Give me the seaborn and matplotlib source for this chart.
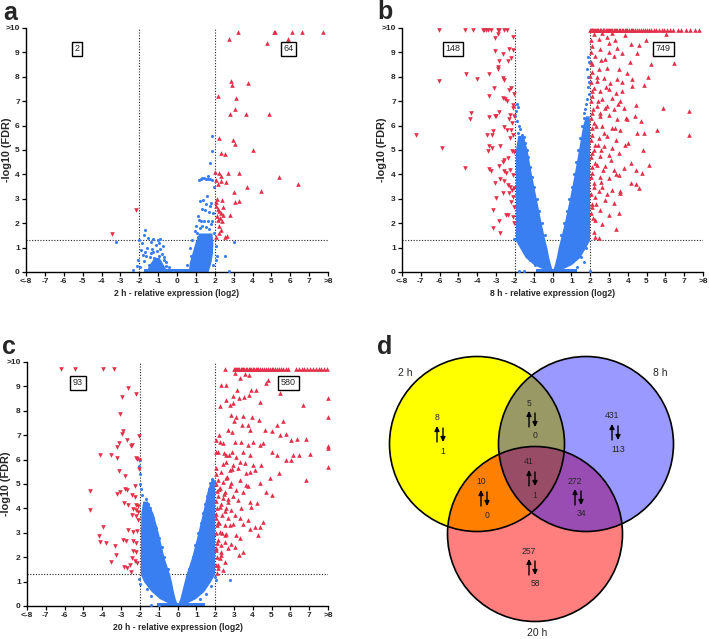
import numpy as np
import matplotlib
matplotlib.use("Agg")
import matplotlib.pyplot as plt
import seaborn as sns
from matplotlib.patches import Circle

sns.set_style("ticks")
plt.rcParams["font.family"] = ["Liberation Sans", "DejaVu Sans"]

RED = "#e2304a"
BLUE = "#3a7ff2"

x_ticks = list(range(-8, 9))
x_tick_labels = ["<-8", "-7", "-6", "-5", "-4", "-3", "-2", "-1", "0",
                 "1", "2", "3", "4", "5", "6", "7", ">8"]
y_ticks = list(range(0, 11))
y_tick_labels = ["0", "1", "2", "3", "4", "5", "6", "7", "8", "9", ">10"]

# ---- panel a (2 h) ----
a_counts = (2, 64)
a_top_y = 9.84
a_top_up_x = [3.22, 5.12, 5.19, 6.09, 6.62, 7.72]
a_up = [(2.74, 9.54), (5.89, 9.54), (4.76, 9.40), (2.87, 7.83), (2.92, 7.67), (3.75, 7.74),
        (2.16, 7.22), (3.10, 7.14), (3.06, 6.67), (2.83, 6.48), (3.68, 6.48), (4.90, 6.48),
        (2.23, 5.50), (2.96, 5.39), (3.08, 5.24), (2.32, 4.88), (2.53, 4.84), (4.02, 4.98),
        (2.02, 4.10), (2.21, 4.07), (2.71, 4.07), (3.26, 4.07), (2.32, 3.92), (5.40, 3.89),
        (2.07, 3.78), (2.34, 3.74), (2.57, 3.70), (2.16, 3.60), (6.41, 3.59), (3.70, 3.47),
        (4.44, 3.33), (3.01, 3.27), (2.10, 3.00), (2.39, 2.96), (2.04, 2.86), (3.08, 2.88),
        (3.26, 2.91), (2.07, 2.69), (2.16, 2.58), (2.25, 2.48), (2.34, 2.41), (2.42, 2.35),
        (2.10, 2.28), (2.30, 2.21), (2.16, 2.14), (2.39, 2.07), (2.83, 2.35), (2.25, 1.87),
        (2.32, 1.73), (2.21, 1.60), (2.04, 1.43), (2.53, 1.43), (2.67, 1.46), (2.46, 2.66)]
a_down = [(-3.47, 1.56), (-2.16, 2.55)]
a_blue = [(-3.24, 1.23), (-2.35, 0.07), (-2.14, 0.26), (-2.0, 1.32), (-1.86, 1.19), (-1.68, 1.71),
          (-1.77, 1.53), (-1.56, 1.39), (-1.26, 1.35), (-0.9, 1.36), (-1.38, 1.21), (-1.11, 1.12),
          (-0.76, 1.05), (-1.82, 0.71), (-1.65, 0.64), (-1.38, 0.78), (-1.2, 0.57), (-0.97, 0.64),
          (-0.67, 0.5), (-1.11, 0.37), (-0.85, 0.3), (-0.58, 0.26), (-1.47, 0.3), (-0.23, 0.1),
          (-1.0, 1.3), (-0.95, 1.2), (-1.9, 0.9), (-1.75, 0.45), (-1.05, 0.85), (-0.9, 0.95),
          (-0.8, 0.75), (-1.3, 0.95), (-1.6, 1.0), (-1.45, 0.6), (-1.25, 0.8), (-0.7, 0.6),
          (-1.7, 0.8), (-2.05, 0.5), (-1.95, 0.2), (-0.45, 0.2), (-0.6, 0.4),
          (1.15, 3.78), (1.25, 3.82), (1.35, 3.85), (1.45, 3.85), (1.55, 3.83), (1.65, 3.8),
          (1.75, 3.8), (1.85, 3.78), (1.75, 4.46), (1.86, 4.94), (1.84, 5.58), (1.66, 3.92),
          (1.24, 2.89), (1.4, 2.96), (1.61, 3.1), (1.15, 2.14), (1.27, 2.07), (1.45, 2.07),
          (1.63, 2.11), (1.72, 2.44), (1.5, 2.55), (1.75, 2.69), (1.82, 2.82), (3.04, 1.23),
          (2.74, 0.03), (2.55, 0.64), (2.1, 0.64), (2.07, 1.05), (2.04, 0.5), (1.95, 3.5),
          (1.9, 2.4), (1.3, 2.6), (1.55, 2.8), (1.1, 2.3), (1.0, 1.9), (0.95, 1.7), (1.05, 1.6),
          (1.85, 2.1), (1.95, 1.6), (0.8, 1.3), (0.7, 1.0), (1.9, 0.3), (1.2, 1.8), (1.7, 1.75),
          (1.35, 1.9), (1.55, 1.85), (1.8, 1.95), (1.1, 1.45), (0.75, 0.65), (0.55, 0.3)]
# dense blue clouds: (y, left edge, right edge)
a_clouds = [
    ([0.02, 0.4, 0.8, 1.2, 1.6], [0.6, 0.65, 0.8, 0.95, 1.15], [1.65, 1.8, 1.88, 1.9, 1.85]),
    ([0.02, 0.2, 0.4, 0.6], [-1.6, -1.55, -1.4, -1.2], [-0.55, -0.65, -0.8, -0.95]),
]
a_band = (-1.75, 0.7)

# ---- panel b (8 h) ----
b_counts = (148, 749)
b_top_y = 9.92
b_top_down_x = [-6.04, -4.67, -4.2, -3.72, -3.63, -3.54, -3.45, -3.27, -2.91, -2.82, -2.56, -2.42]
b_top_up_x = [2.0, 2.04, 2.08, 2.12, 2.17, 2.21, 2.26, 2.3, 2.35, 2.4, 2.44, 2.5, 2.55, 2.6,
              2.66, 2.7, 2.76, 2.82, 2.88, 2.93, 3.0, 3.06, 3.12, 3.18, 3.25, 3.3, 3.38, 3.45,
              3.52, 3.6, 3.68, 3.75, 3.83, 3.9, 3.98, 4.06, 4.15, 4.22, 4.3, 4.4, 4.5, 4.6,
              4.7, 4.8, 4.9, 5.0, 5.12, 5.25, 5.38, 5.5, 5.65, 5.8, 5.95, 6.1, 6.25, 6.38,
              6.68, 6.85, 7.1, 7.3, 7.55, 7.78]
b_down = [(-2.91, 9.74), (-2.09, 9.64), (-3.05, 9.6), (-3.08, 9.05), (-2.29, 9.15), (-2.11, 9.1),
          (-2.65, 8.92), (-2.2, 8.78), (-2.82, 8.64), (-2.38, 8.64), (-2.91, 8.33), (-2.91, 8.4),
          (-3.36, 8.1), (-2.65, 7.96), (-2.56, 7.86), (-4.6, 8.12), (-6.04, 7.82), (-4.0, 7.92),
          (-3.13, 7.55), (-2.2, 7.55), (-2.29, 7.45), (-2.05, 7.28), (-2.65, 7.14), (-2.52, 7.07),
          (-2.42, 7.0), (-3.36, 7.21), (-2.11, 6.86), (-2.09, 6.72), (-2.82, 6.55), (-4.35, 6.52),
          (-4.38, 6.27), (-3.36, 6.34), (-3.08, 6.38), (-3.0, 6.41), (-2.24, 6.45), (-2.02, 6.38),
          (-2.29, 6.25), (-2.16, 6.11), (-2.56, 5.94), (-2.43, 5.81), (-2.2, 5.84), (-3.15, 5.77),
          (-3.2, 5.63), (-3.5, 5.63), (-2.11, 5.63), (-2.24, 5.5), (-7.24, 5.61), (-5.87, 5.09),
          (-3.36, 5.15), (-3.24, 5.09), (-2.77, 5.15), (-3.45, 4.95), (-2.13, 4.95), (-2.06, 4.9),
          (-2.56, 4.6), (-2.65, 4.5), (-2.38, 4.67), (-2.86, 4.33), (-4.67, 4.26), (-3.36, 4.22),
          (-3.27, 4.12), (-2.59, 4.12), (-2.47, 4.05), (-2.24, 4.19), (-2.11, 3.99), (-2.77, 3.81),
          (-3.08, 3.64), (-2.56, 3.71), (-2.38, 3.57), (-2.24, 3.5), (-2.16, 3.36), (-2.06, 3.43),
          (-2.65, 3.25), (-2.29, 3.22), (-2.11, 3.08), (-3.0, 3.03), (-2.2, 2.88), (-2.06, 2.67),
          (-2.47, 2.33), (-2.34, 2.33), (-2.11, 2.26), (-3.15, 2.54), (-2.02, 2.0), (-2.86, 2.07),
          (-3.18, 1.79), (-2.79, 1.61)]
b_up = [(2.18, 9.74), (2.63, 9.78), (3.17, 9.81), (3.88, 9.7), (4.15, 9.33), (4.96, 9.51),
        (6.03, 9.74), (2.45, 9.53), (2.9, 9.64), (2.1, 9.26), (2.54, 9.13), (2.99, 9.4),
        (3.43, 9.2), (3.71, 8.99), (2.27, 8.85), (2.81, 8.71), (3.26, 8.85), (4.5, 8.99),
        (5.23, 8.51), (6.48, 8.57), (2.1, 8.51), (2.45, 8.3), (2.9, 8.37), (3.53, 8.3),
        (3.97, 8.17), (2.0, 8.03), (2.36, 7.82), (2.72, 7.96), (3.08, 7.75), (3.43, 7.89),
        (4.24, 7.89), (4.87, 7.68), (2.18, 7.55), (2.54, 7.41), (2.99, 7.48), (3.35, 7.34),
        (3.71, 7.41), (4.24, 7.61), (2.1, 7.2), (2.63, 7.07), (3.17, 7.13), (3.61, 7.0),
        (4.42, 6.86), (2.36, 6.79), (2.81, 6.72), (3.26, 6.66), (3.79, 6.72), (5.85, 6.72),
        (7.28, 6.58), (2.1, 6.52), (2.54, 6.38), (2.99, 6.45), (3.43, 6.25), (3.97, 6.25),
        (4.69, 6.18), (2.18, 6.11), (2.63, 5.98), (3.17, 5.91), (3.61, 5.84), (5.55, 5.84),
        (4.51, 5.7), (4.87, 5.7), (2.1, 5.63), (2.45, 5.49), (2.9, 5.56), (3.35, 5.42),
        (7.28, 5.63), (2.27, 5.22), (2.72, 5.15), (3.17, 5.08), (3.88, 5.22), (2.1, 4.88),
        (2.54, 4.74), (2.99, 4.81), (3.53, 4.88), (4.15, 4.47), (5.14, 4.4), (4.42, 4.19),
        (2.27, 4.47), (2.81, 4.33), (3.26, 4.19), (3.79, 4.26), (2.1, 4.05), (2.54, 3.91),
        (2.99, 3.85), (3.53, 3.98), (4.15, 3.64), (4.6, 3.43), (2.18, 3.64), (2.63, 3.5),
        (3.17, 3.36), (3.61, 3.22), (2.27, 3.08), (2.81, 2.95), (3.26, 2.81), (2.1, 2.67),
        (2.54, 2.53), (2.99, 2.33), (3.53, 2.4), (2.27, 2.12), (2.63, 1.98), (2.18, 1.64),
        (3.35, 1.78), (2.27, 1.43), (2.45, 1.4), (4.78, 4.07), (4.45, 3.59),
        (2.03, 9.5), (2.06, 9.0), (2.02, 8.6), (2.08, 8.2), (2.04, 7.8), (2.12, 7.4),
        (2.05, 7.0), (2.15, 6.7), (2.03, 6.3), (2.1, 5.9), (2.05, 5.4), (2.2, 5.0),
        (2.03, 4.7), (2.12, 4.3), (2.06, 3.9), (2.2, 3.5), (2.04, 3.2), (2.1, 2.8),
        (2.03, 2.4), (2.15, 2.2), (2.35, 8.0), (2.4, 7.0), (2.3, 6.0), (2.4, 5.2),
        (2.35, 4.4), (2.45, 3.3), (2.3, 2.8), (2.5, 6.5), (2.6, 5.0), (2.7, 4.2),
        (2.9, 3.2), (2.6, 3.7), (2.75, 5.7), (2.85, 7.6), (2.6, 8.7), (3.0, 9.0),
        (2.9, 6.8), (3.1, 4.6), (3.3, 5.9), (3.5, 6.9), (3.4, 4.0), (3.7, 7.8),
        (3.9, 6.3), (3.6, 3.3), (4.0, 5.3), (4.4, 6.4), (4.1, 8.6), (3.3, 9.5),
        (4.6, 9.3), (5.1, 8.0), (4.8, 5.0), (5.4, 9.0)]
b_blue = [(-2.05, 1.35), (-1.9, 6.9), (-1.85, 6.75), (-1.95, 6.6), (-1.98, 6.4), (-1.9, 6.2),
          (-1.8, 6.0), (-1.75, 5.85), (-1.85, 5.7), (-1.6, 5.6), (-1.5, 5.55), (-1.45, 5.3),
          (-1.35, 5.0), (-1.3, 4.7), (-1.2, 4.3), (-1.1, 3.9), (-1.0, 3.5), (-0.85, 3.0),
          (-0.7, 2.5), (-0.55, 2.0), (-0.4, 1.5), (-1.8, 0.05), (-1.5, 0.05), (-0.95, 0.3),
          (-1.2, 0.5), (-1.5, 0.8), (-1.6, 1.1), (-1.7, 1.3),
          (1.9, 8.8), (1.95, 8.6), (1.85, 8.3), (1.9, 8.0), (1.95, 7.8), (1.88, 7.6),
          (1.95, 7.3), (1.85, 7.1), (1.8, 6.9), (1.75, 6.7), (1.7, 6.5), (1.65, 6.3),
          (1.55, 6.0), (1.45, 5.5), (1.35, 5.0), (1.25, 4.5), (1.15, 4.0), (1.05, 3.5),
          (0.9, 3.0), (0.75, 2.5), (0.6, 2.0), (0.45, 1.5), (2.0, 0.05), (1.7, 0.4),
          (1.3, 0.2), (1.5, 0.6), (1.8, 1.0)]
b_clouds = [
    ([0.05, 0.3, 0.6, 1.0, 1.3, 2.0, 3.0, 4.0, 5.0, 5.6],
     [-0.3, -1.0, -1.45, -1.75, -1.97, -1.97, -1.97, -1.97, -1.97, -1.85],
     [0.0, -0.1, -0.2, -0.3, -0.4, -0.6, -0.86, -1.12, -1.35, -1.55]),
    ([0.05, 0.3, 0.6, 1.0, 1.3, 2.0, 3.0, 4.0, 5.0, 6.0, 6.4],
     [0.0, 0.1, 0.2, 0.3, 0.4, 0.62, 0.9, 1.15, 1.38, 1.6, 1.75],
     [0.3, 1.0, 1.45, 1.75, 1.97, 1.97, 1.97, 1.97, 1.97, 1.97, 1.95]),
]
b_band = (-0.9, 1.3)

# ---- panel c (20 h) ----
c_counts = (93, 580)
c_top_y = 9.73
c_top_down_x = [-6.21, -5.43, -3.95, -3.4]
c_top_up_x = [2.55, 2.98, 3.05, 3.1, 3.16, 3.22, 3.28, 3.35, 3.42, 3.5, 3.56, 3.63, 3.7,
              3.78, 3.85, 3.92, 4.0, 4.08, 4.15, 4.23, 4.3, 4.4, 4.5, 4.6, 4.7, 4.8, 4.9,
              5.0, 5.1, 5.2, 5.3, 5.4, 5.5, 5.62, 5.75, 5.88, 6.3, 6.45, 6.6, 6.75, 6.9,
              7.05, 7.2, 7.35, 7.5, 7.65, 7.8, 7.95]
c_down = [(-2.65, 8.93), (-2.18, 8.69), (-2.96, 8.56), (-3.06, 7.87), (-2.88, 7.17), (-2.94, 7.06),
          (-2.07, 6.95), (-2.67, 6.81), (-2.42, 6.61), (-2.48, 6.54), (-3.13, 6.70), (-3.2, 6.5),
          (-4.12, 6.17), (-3.54, 6.17), (-3.24, 6.06), (-2.23, 6.06), (-2.14, 6.02), (-3.12, 5.55),
          (-2.78, 5.31), (-2.25, 4.92), (-3.24, 4.6), (-3.06, 4.69), (-2.8, 4.79), (-2.67, 4.76),
          (-4.65, 4.72), (-4.64, 3.94), (-2.44, 4.54), (-2.27, 4.45), (-2.85, 4.24), (-2.62, 4.14),
          (-2.21, 4.14), (-2.12, 4.08), (-2.35, 3.99), (-2.18, 3.94), (-2.09, 3.87), (-2.44, 3.73),
          (-2.21, 3.67), (-2.09, 3.53), (-3.98, 3.23), (-2.62, 3.12), (-2.35, 3.02), (-2.14, 3.08),
          (-4.18, 2.85), (-4.12, 2.64), (-3.82, 2.6), (-2.92, 2.71), (-2.74, 2.67), (-2.39, 2.65),
          (-2.18, 2.57), (-3.31, 2.44), (-3.29, 2.09), (-2.35, 2.27), (-2.18, 2.23), (-2.42, 1.96),
          (-2.27, 1.86), (-3.54, 1.79), (-2.85, 1.61), (-2.67, 1.55), (-2.53, 1.68), (-2.14, 1.75),
          (-2.48, 1.41), (-2.05, 6.0), (-2.03, 5.6)]
c_up = [(3.04, 9.55), (3.31, 9.34), (3.57, 9.5), (3.8, 9.45), (4.81, 9.27), (4.72, 9.13),
        (5.43, 8.73), (2.33, 9.07), (2.6, 9.07), (3.18, 8.86), (3.93, 8.86), (4.16, 8.86),
        (2.57, 8.45), (2.95, 8.59), (3.27, 8.52), (3.52, 8.55), (3.8, 8.63), (4.39, 8.38),
        (2.28, 8.18), (2.81, 8.25), (2.95, 8.32), (8.0, 8.52), (6.67, 8.25), (8.0, 7.74),
        (2.86, 7.84), (3.1, 7.73), (3.48, 7.77), (3.96, 7.74), (4.33, 7.63), (3.01, 7.57),
        (3.45, 7.43), (3.75, 7.43), (5.29, 7.43), (5.61, 7.57), (2.69, 7.23), (2.9, 7.13),
        (3.84, 7.23), (4.64, 7.23), (5.04, 7.18), (5.43, 7.02), (5.79, 7.05), (2.07, 6.81),
        (2.25, 6.74), (2.42, 6.67), (3.04, 6.74), (3.4, 6.74), (3.75, 6.6), (4.02, 6.71),
        (4.37, 6.6), (4.55, 6.67), (6.05, 6.81), (6.35, 6.85), (6.81, 6.85), (8.0, 6.56),
        (8.0, 6.46), (2.16, 6.33), (2.46, 6.26), (2.74, 6.19), (2.92, 6.33), (3.13, 6.12),
        (3.48, 6.3), (3.84, 6.19), (5.04, 6.3), (5.29, 6.19), (5.75, 5.99), (6.14, 6.19),
        (6.44, 6.19), (7.03, 6.25), (6.05, 5.99), (2.6, 5.92), (2.95, 5.78), (3.31, 5.92),
        (3.57, 5.85), (4.02, 5.78), (4.46, 5.78), (2.07, 5.65), (2.33, 5.51), (2.78, 5.58),
        (3.22, 5.65), (3.66, 5.44), (3.84, 5.51), (4.1, 5.58), (4.9, 5.24), (5.39, 5.44),
        (6.85, 5.17), (8.0, 5.71), (2.16, 5.17), (2.42, 5.1), (2.6, 5.24), (2.86, 5.03),
        (3.31, 5.17), (3.66, 4.97), (4.37, 5.03), (2.25, 4.83), (2.51, 4.69), (2.78, 4.9),
        (3.13, 4.76), (3.48, 4.69), (3.75, 4.9), (4.72, 4.69), (5.04, 4.55), (2.16, 4.49),
        (2.42, 4.42), (2.69, 4.28), (2.95, 4.49), (3.22, 4.35), (3.84, 4.28), (4.2, 4.21),
        (2.25, 4.07), (2.6, 4.0), (2.86, 3.93), (3.4, 4.0), (3.93, 4.07), (2.07, 3.79),
        (2.39, 3.73), (2.69, 3.59), (3.04, 3.73), (3.31, 3.59), (3.75, 3.52), (4.55, 3.45),
        (2.16, 3.45), (2.51, 3.31), (2.95, 3.38), (3.48, 3.38), (3.84, 3.17), (4.1, 3.24),
        (4.37, 3.24), (2.25, 3.04), (2.6, 2.97), (3.13, 2.9), (4.28, 2.9), (2.16, 2.7),
        (2.51, 2.63), (2.86, 2.56), (3.31, 2.77), (2.07, 2.36), (2.33, 2.22), (2.69, 2.36),
        (3.04, 2.42), (3.48, 2.22), (3.27, 2.09), (2.25, 1.95), (2.51, 1.81), (2.16, 1.68),
        (2.42, 1.47), (2.11, 1.34),
        (2.03, 5.4), (2.05, 5.0), (2.1, 4.7), (2.03, 4.3), (2.08, 4.0), (2.04, 3.6),
        (2.12, 3.3), (2.05, 3.0), (2.08, 2.6), (2.03, 2.3), (2.1, 2.0), (2.04, 1.7),
        (2.2, 4.8), (2.3, 4.2), (2.2, 3.4), (2.35, 3.0), (2.3, 2.5), (2.45, 4.6),
        (2.5, 3.9), (2.55, 2.9), (2.65, 5.3), (2.7, 4.4), (2.8, 3.3), (2.9, 5.6),
        (2.4, 5.8), (2.05, 6.3), (2.6, 6.2), (2.2, 7.0), (2.3, 2.1), (2.15, 1.55)]
c_blue = [(-2.0, 6.0), (-2.02, 5.75), (-1.98, 5.4), (-2.0, 5.0), (-1.95, 4.8), (-1.9, 4.55),
          (-1.7, 4.4), (-1.55, 4.2), (-1.45, 4.0), (-1.3, 3.6), (-1.15, 3.2), (-1.0, 2.8),
          (-0.85, 2.4), (-0.7, 2.0), (-0.5, 1.5), (-2.05, 1.1), (-2.0, 0.9), (-1.6, 0.7),
          (-1.4, 0.4), (-1.0, 0.05), (-1.4, 0.05),
          (1.85, 5.2), (1.95, 5.1), (1.75, 5.05), (1.65, 4.8), (1.55, 4.5), (1.45, 4.2),
          (1.35, 3.8), (1.25, 3.4), (1.1, 3.0), (0.95, 2.5), (0.8, 2.0), (0.6, 1.5),
          (2.0, 1.2), (2.05, 1.05), (2.8, 1.05), (1.8, 0.8), (1.5, 0.5), (1.2, 0.3)]
c_clouds = [
    ([0.05, 0.3, 0.6, 1.0, 1.3, 2.0, 3.0, 3.8, 4.3],
     [-0.3, -0.95, -1.4, -1.8, -1.97, -1.97, -1.97, -1.95, -1.85],
     [0.0, -0.12, -0.22, -0.32, -0.42, -0.72, -1.02, -1.3, -1.6]),
    ([0.05, 0.3, 0.6, 1.0, 1.3, 2.0, 3.0, 4.0, 4.8, 5.2],
     [0.0, 0.12, 0.22, 0.35, 0.45, 0.75, 1.08, 1.38, 1.6, 1.8],
     [0.3, 0.95, 1.4, 1.75, 1.97, 1.97, 1.97, 1.97, 1.97, 1.95]),
]
c_band = (-1.1, 1.45)

# ---- panel d (Venn) ----
set_names = ["2 h", "8 h", "20 h"]
region_up = [8, 5, 431, 10, 41, 272, 257]
region_down = [1, 0, 113, 0, 1, 34, 58]


def draw_volcano(ax, up, top_up_x, down, top_down_x, top_y, blue, clouds, band,
                 counts, xlabel, ylabel_x):
    for ys, lo, hi in clouds:
        ax.fill_betweenx(ys, lo, hi, color=BLUE, lw=0, zorder=2)
    ax.fill_between(band, 0.01, 0.12, color=BLUE, lw=0, zorder=2)
    bx, by = np.array(blue).T
    sns.scatterplot(x=bx, y=by, ax=ax, color=BLUE, marker="o", s=5,
                    linewidth=0, zorder=3, clip_on=False)
    ux, uy = np.array(up).T
    ux = np.concatenate([ux, top_up_x])
    uy = np.concatenate([uy, [top_y] * len(top_up_x)])
    sns.scatterplot(x=ux, y=uy, ax=ax, color=RED, marker="^", s=11,
                    linewidth=0, zorder=4, clip_on=False)
    dx, dy = np.array(down).T
    dx = np.concatenate([dx, top_down_x])
    dy = np.concatenate([dy, [top_y] * len(top_down_x)])
    sns.scatterplot(x=dx, y=dy, ax=ax, color=RED, marker="v", s=11,
                    linewidth=0, zorder=4, clip_on=False)

    for xv in (-2, 2):
        ax.axvline(xv, ls=(0, (1, 1.5)), color="#222222", lw=0.8, zorder=1)
    ax.axhline(1.3, ls=(0, (1, 1.5)), color="#222222", lw=0.8, zorder=1)

    box = dict(boxstyle="square,pad=0.3", fc="white", ec="black", lw=1)
    ax.text(-5.3, 9.15, str(counts[0]), ha="center", va="center", fontsize=6.5, bbox=box, zorder=5)
    ax.text(5.9, 9.15, str(counts[1]), ha="center", va="center", fontsize=6.5, bbox=box, zorder=5)

    ax.set_xlim(-8, 8)
    ax.set_ylim(0, 10)
    ax.set_xticks(x_ticks)
    ax.set_xticklabels(x_tick_labels)
    ax.set_yticks(y_ticks)
    ax.set_yticklabels(y_tick_labels)
    ax.tick_params(labelsize=6, length=3, width=0.9, pad=1.5, color="black")
    for lab in ax.get_xticklabels() + ax.get_yticklabels():
        lab.set_fontweight("bold")
    ax.set_xlabel(xlabel, fontsize=6.2, fontweight="bold", labelpad=3)
    ax.set_ylabel("-log10 (FDR)", fontsize=7.8, fontweight="bold")
    ax.yaxis.set_label_coords(ylabel_x, 0.5)
    sns.despine(ax=ax)
    for sp in ("left", "bottom"):
        ax.spines[sp].set_linewidth(1.0)
        ax.spines[sp].set_color("black")


fig = plt.figure(figsize=(7.09, 6.39), dpi=100)
W, H = 709, 639

ax_a = fig.add_axes([26 / W, 1 - 272 / H, 302 / W, 244 / H])
ax_b = fig.add_axes([402 / W, 1 - 272 / H, 301 / W, 244 / H])
ax_c = fig.add_axes([27 / W, 1 - 606 / H, 301 / W, 244 / H])

draw_volcano(ax_a, a_up, a_top_up_x, a_down, [], a_top_y, a_blue, a_clouds, a_band,
             a_counts, "2 h - relative expression (log2)", -0.048)
draw_volcano(ax_b, b_up, b_top_up_x, b_down, b_top_down_x, b_top_y, b_blue, b_clouds, b_band,
             b_counts, "8 h - relative expression (log2)", -0.05)
draw_volcano(ax_c, c_up, c_top_up_x, c_down, c_top_down_x, c_top_y, c_blue, c_clouds, c_band,
             c_counts, "20 h - relative expression (log2)", -0.053)

# Venn panel in a pixel-like local frame
ax_d = fig.add_axes([350 / W, 0, 359 / W, 329 / H])
ax_d.set_xlim(0, 359)
ax_d.set_ylim(329, 0)
ax_d.axis("off")
R = 87.5
centers = [(127, 134), (236, 134), (185, 224)]
ax_d.add_patch(Circle(centers[0], R, fc="#ffff00", ec="none", zorder=1))
ax_d.add_patch(Circle(centers[2], R, fc=(1, 0, 0, 0.5), ec="none", zorder=2))
ax_d.add_patch(Circle(centers[1], R, fc=(0, 0, 1, 0.4), ec="none", zorder=3))
for c in centers:
    ax_d.add_patch(Circle(c, R, fill=False, ec="black", lw=1.2, zorder=4))

label_pos = [(55, 63), (310, 63), (187, 323)]
for name, (lx, ly) in zip(set_names, label_pos):
    ax_d.text(lx, ly, name, ha="center", va="center", fontsize=7.5)

# arrow centres: 2h only, 2h&8h, 8h only, 2h&20h, all, 8h&20h, 20h only
arrow_pos = [(90, 124), (182, 109), (265, 122), (134, 188), (182, 168), (228, 187), (182, 257)]
for (cx, cy), nu, nd in zip(arrow_pos, region_up, region_down):
    ax_d.annotate("", xy=(cx - 3, cy - 8), xytext=(cx - 3, cy + 8),
                  arrowprops=dict(arrowstyle="-|>", color="black", lw=1.0,
                                  mutation_scale=7, shrinkA=0, shrinkB=0), zorder=5)
    ax_d.annotate("", xy=(cx + 3, cy + 8), xytext=(cx + 3, cy - 6),
                  arrowprops=dict(arrowstyle="-|>", color="black", lw=1.0,
                                  mutation_scale=7, shrinkA=0, shrinkB=0), zorder=5)
    ax_d.text(cx - 3, cy - 16, str(nu), ha="center", va="center", fontsize=6.2, zorder=5)
    ax_d.text(cx + 3, cy + 17, str(nd), ha="center", va="center", fontsize=6.2, zorder=5)

for letter, (px, py) in zip("abcd", [(10, 13), (385, 12), (9, 347), (385, 347)]):
    fig.text(px / W, 1 - py / H, letter, fontsize=18, fontweight="bold",
             ha="center", va="center")

fig.savefig("out.png", dpi=100)
plt.close(fig)
